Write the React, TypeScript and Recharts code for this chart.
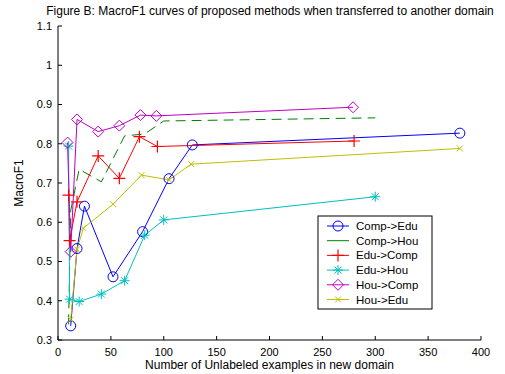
import { LineChart, Line, XAxis, YAxis } from 'recharts';

// x positions (number of unlabeled examples) and MacroF1 per curve
const compEduX = [12, 18, 25, 52, 80, 105, 127, 380];
const compEduY = [0.336, 0.533, 0.641, 0.461, 0.576, 0.711, 0.797, 0.827];

const compHouX = [10, 12, 20, 41, 63, 82, 100, 300];
const compHouY = [0.34, 0.63, 0.735, 0.703, 0.82, 0.825, 0.858, 0.866];

const eduCompX = [10, 11, 18, 38, 58, 77, 94, 280];
const eduCompY = [0.669, 0.553, 0.652, 0.769, 0.712, 0.818, 0.793, 0.807];

const eduHouX = [10, 11, 20, 41, 63, 82, 100, 300];
const eduHouY = [0.794, 0.404, 0.398, 0.417, 0.451, 0.567, 0.606, 0.665];

const houCompX = [9, 12, 18, 38, 58, 78, 93, 279];
const houCompY = [0.803, 0.525, 0.862, 0.831, 0.846, 0.873, 0.871, 0.893];

const houEduX = [12, 18, 24, 52, 79, 105, 126, 380];
const houEduY = [0.352, 0.531, 0.585, 0.646, 0.72, 0.708, 0.748, 0.788];

const xTicks = [0, 50, 100, 150, 200, 250, 300, 350, 400];
const yTicks = [0.3, 0.4, 0.5, 0.6, 0.7, 0.8, 0.9, 1, 1.1];

const zip = (xs: number[], ys: number[]) => xs.map((x, i) => ({ x, y: ys[i] }));

const FONT = 'Arial, "Liberation Sans", sans-serif';

function CircleDot(p: any) {
  if (p.cx == null) return null;
  return <circle cx={p.cx} cy={p.cy} r={5} fill="none" stroke={p.stroke} strokeWidth={1} />;
}
function PlusDot(p: any) {
  if (p.cx == null) return null;
  const { cx, cy } = p;
  return <path d={`M${cx - 6},${cy}h12M${cx},${cy - 6}v12`} stroke={p.stroke} strokeWidth={1.2} fill="none" />;
}
function StarDot(p: any) {
  if (p.cx == null) return null;
  const { cx, cy } = p;
  return (
    <path
      d={`M${cx - 5},${cy}h10M${cx},${cy - 5}v10M${cx - 3.5},${cy - 3.5}l7,7M${cx + 3.5},${cy - 3.5}l-7,7`}
      stroke={p.stroke} strokeWidth={1} fill="none"
    />
  );
}
function DiamondDot(p: any) {
  if (p.cx == null) return null;
  const { cx, cy } = p;
  return <path d={`M${cx},${cy - 5.5}L${cx + 5.5},${cy}L${cx},${cy + 5.5}L${cx - 5.5},${cy}Z`} stroke={p.stroke} fill="none" strokeWidth={1} />;
}
function XDot(p: any) {
  if (p.cx == null) return null;
  const { cx, cy } = p;
  return <path d={`M${cx - 3},${cy - 3}l6,6M${cx + 3},${cy - 3}l-6,6`} stroke={p.stroke} strokeWidth={1} fill="none" />;
}
function NoDot() {
  return null;
}

const series = [
  { name: 'Comp->Edu', color: '#0000ff', data: zip(compEduX, compEduY), Dot: CircleDot, dash: undefined },
  { name: 'Comp->Hou', color: '#008000', data: zip(compHouX, compHouY), Dot: NoDot, dash: '10 6' },
  { name: 'Edu->Comp', color: '#ff0000', data: zip(eduCompX, eduCompY), Dot: PlusDot, dash: undefined },
  { name: 'Edu->Hou', color: '#00bfbf', data: zip(eduHouX, eduHouY), Dot: StarDot, dash: undefined },
  { name: 'Hou->Comp', color: '#bf00bf', data: zip(houCompX, houCompY), Dot: DiamondDot, dash: undefined },
  { name: 'Hou->Edu', color: '#bfbf00', data: zip(houEduX, houEduY), Dot: XDot, dash: undefined },
];

const fmt = (v: number) => String(Number(v.toFixed(1)));
const tickStyle = { fill: '#000', fontSize: 11, fontFamily: FONT };

function LegendBox() {
  return (
    <svg width={116} height={95} style={{ position: 'absolute', left: 317, top: 215 }}>
      <rect x={1} y={1} width={114} height={93} fill="#fff" stroke="#000" strokeWidth={1} />
      {series.map((s, i) => {
        const y = 11 + i * 14.7;
        const D = s.Dot === NoDot ? null : s.Dot;
        return (
          <g key={s.name}>
            <line x1={10} x2={32} y1={y} y2={y} stroke={s.color} strokeWidth={1} />
            {D ? <D cx={21} cy={y} stroke={s.color} /> : null}
            <text x={39} y={y + 4} fontSize={11.5} fontFamily={FONT} fill="#000">{s.name}</text>
          </g>
        );
      })}
    </svg>
  );
}

export default function App() {
  return (
    <div style={{ position: 'absolute', left: 0, top: 0, width: 505, height: 374, background: '#fff' }}>
      <div
        style={{
          position: 'absolute', left: 0, top: 4, width: 540, textAlign: 'center',
          fontFamily: FONT, fontSize: 12, color: '#000', whiteSpace: 'nowrap',
        }}
      >
        Figure B: MacroF1 curves of proposed methods when transferred to another domain
      </div>
      <LineChart width={505} height={374} margin={{ top: 26, right: 24, bottom: 14, left: 18 }}>
        <XAxis
          dataKey="x" type="number" domain={[0, 400]} ticks={xTicks} height={20}
          stroke="#000" tickSize={-4} tickMargin={12} tick={tickStyle}
          label={{ value: 'Number of Unlabeled examples in new domain', position: 'bottom', offset: 0, style: { fontSize: 12, fontFamily: FONT, fill: '#000' } }}
        />
        <XAxis
          xAxisId="top" orientation="top" type="number" domain={[0, 400]} ticks={xTicks} height={0}
          stroke="#000" tickSize={-4} tickFormatter={() => ''}
        />
        <YAxis
          type="number" domain={[0.3, 1.1]} ticks={yTicks} width={40} stroke="#000"
          tickSize={-4} tickMargin={10} tick={tickStyle} tickFormatter={fmt}
          label={{ value: 'MacroF1', angle: -90, position: 'insideLeft', offset: 1, style: { textAnchor: 'middle', fontSize: 12, fontFamily: FONT, fill: '#000' } }}
        />
        <YAxis
          yAxisId="right" orientation="right" type="number" domain={[0.3, 1.1]} ticks={yTicks} width={0}
          stroke="#000" tickSize={-4} tickFormatter={() => ''}
        />
        {series.map((s) => (
          <Line
            key={s.name}
            data={s.data}
            dataKey="y"
            name={s.name}
            stroke={s.color}
            strokeWidth={1}
            strokeDasharray={s.dash}
            dot={<s.Dot />}
            activeDot={false}
            isAnimationActive={false}
            type="linear"
          />
        ))}
      </LineChart>
      <LegendBox />
    </div>
  );
}
